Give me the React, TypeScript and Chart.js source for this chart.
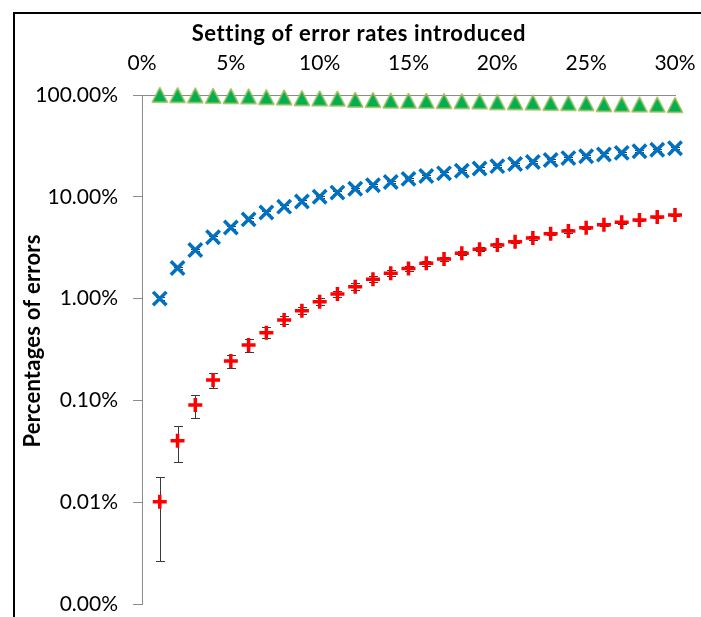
import React, { useEffect, useRef } from 'react';
import { Chart, registerables } from 'chart.js';

Chart.register(...registerables);

const errorRates = [1, 2, 3, 4, 5, 6, 7, 8, 9, 10, 11, 12, 13, 14, 15, 16, 17, 18, 19, 20, 21, 22, 23, 24, 25, 26, 27, 28, 29, 30];

const greenValues = [99.8, 99.2, 98.6, 97.5, 97.0, 96.6, 94.8, 94.2, 92.6, 92.2, 91.8, 89.4, 88.9, 87.8, 87.4, 87.2, 86.7, 86.4, 86.1, 84.7, 84.4, 84.1, 83.2, 82.9, 82.6, 81.0, 80.7, 80.4, 80.1, 79.2];

const blueValues = [1, 2, 3, 4, 5, 6, 7, 8, 9, 10, 11, 12, 13, 14, 15, 16, 17, 18, 19, 20, 21, 22, 23, 24, 25, 26, 27, 28, 29, 30];
const blueLow = [0.97, 1.94, 2.91, 3.87, 4.84, 5.82, 6.8, 7.77, 8.75, 9.72, 10.7, 11.68, 12.65, 13.62, 14.6, 15.58, 16.55, 17.52, 18.5, 19.48, 20.45, 21.42, 22.4, 23.38, 24.35, 25.32, 26.3, 27.28, 28.25, 29.22];
const blueHigh = [1.03, 2.06, 3.09, 4.13, 5.16, 6.18, 7.2, 8.23, 9.25, 10.28, 11.3, 12.32, 13.35, 14.38, 15.4, 16.42, 17.45, 18.48, 19.5, 20.52, 21.55, 22.58, 23.6, 24.62, 25.65, 26.68, 27.7, 28.72, 29.75, 30.78];

const redValues = [0.0101, 0.0402, 0.09, 0.159, 0.244, 0.35, 0.463, 0.616, 0.76, 0.933, 1.11, 1.31, 1.55, 1.77, 1.97, 2.22, 2.45, 2.79, 3.05, 3.36, 3.62, 3.94, 4.34, 4.61, 4.97, 5.32, 5.61, 5.92, 6.33, 6.62];
const redLow = [0.00266, 0.025, 0.067, 0.131, 0.21, 0.301, 0.407, 0.56, 0.7, 0.86, 1.03, 1.22, 1.45, 1.66, 1.86, 2.1, 2.33, 2.66, 2.92, 3.22, 3.48, 3.79, 4.18, 4.45, 4.8, 5.14, 5.43, 5.74, 6.14, 6.43];
const redHigh = [0.0178, 0.056, 0.113, 0.185, 0.279, 0.401, 0.522, 0.68, 0.83, 1.01, 1.2, 1.41, 1.66, 1.89, 2.1, 2.35, 2.58, 2.93, 3.19, 3.51, 3.77, 4.1, 4.51, 4.78, 5.15, 5.5, 5.8, 6.11, 6.53, 6.82];

const xTickValues = [0, 5, 10, 15, 20, 25, 30];
const yTickValues = [0.001, 0.01, 0.1, 1, 10, 100];

const xTitle = 'Setting of error rates introduced';
const yTitle = 'Percentages of errors';

const FONT = 'Lato';

function makeTriangle(): HTMLCanvasElement {
  const c = document.createElement('canvas');
  c.width = 18;
  c.height = 18;
  const ctx = c.getContext('2d')!;
  ctx.beginPath();
  ctx.moveTo(9, 1.5);
  ctx.lineTo(16.5, 16);
  ctx.lineTo(1.5, 16);
  ctx.closePath();
  ctx.fillStyle = '#00B050';
  ctx.fill();
  ctx.lineWidth = 1.6;
  ctx.lineJoin = 'round';
  ctx.strokeStyle = '#9BBB59';
  ctx.stroke();
  return c;
}

const errorBarPlugin = {
  id: 'errorBars',
  beforeDatasetsDraw(chart: any) {
    const { ctx, scales } = chart;
    const xs = scales.x;
    const ys = scales.y;
    ctx.save();
    ctx.strokeStyle = '#3a3a3a';
    ctx.lineWidth = 1;
    const draw = (lows: number[], highs: number[]) => {
      for (let i = 0; i < errorRates.length; i++) {
        const px = Math.round(xs.getPixelForValue(errorRates[i])) + 0.5;
        const p1 = Math.round(ys.getPixelForValue(lows[i])) + 0.5;
        const p2 = Math.round(ys.getPixelForValue(highs[i])) + 0.5;
        ctx.beginPath();
        ctx.moveTo(px, p1);
        ctx.lineTo(px, p2);
        ctx.moveTo(px - 4.5, p1);
        ctx.lineTo(px + 4.5, p1);
        ctx.moveTo(px - 4.5, p2);
        ctx.lineTo(px + 4.5, p2);
        ctx.stroke();
      }
    };
    draw(blueLow, blueHigh);
    draw(redLow, redHigh);
    ctx.restore();
  },
};

function fitText(ctx: CanvasRenderingContext2D, text: string, target: number) {
  (ctx as any).letterSpacing = '0px';
  const w = ctx.measureText(text).width;
  const sp = (target - w) / Math.max(1, text.length - 1);
  (ctx as any).letterSpacing = `${sp.toFixed(2)}px`;
  return w + sp * text.length;
}

const titlesPlugin = {
  id: 'titles',
  afterDraw(chart: any) {
    const { ctx } = chart;
    ctx.save();
    ctx.font = `bold 22px ${FONT}`;
    ctx.fillStyle = '#000';
    ctx.textAlign = 'left';
    ctx.textBaseline = 'alphabetic';
    const w1 = fitText(ctx, xTitle, 333);
    ctx.fillText(xTitle, 358.5 - w1 / 2, 41);
    ctx.translate(40, 341);
    ctx.rotate(-Math.PI / 2);
    const w2 = fitText(ctx, yTitle, 213);
    ctx.fillText(yTitle, -w2 / 2, 0);
    ctx.restore();
  },
};

function zeroPadding(s: any) {
  s.paddingTop = 0;
  s.paddingBottom = 0;
  s.paddingLeft = 0;
  s.paddingRight = 0;
}

export default function App() {
  const ref = useRef<HTMLCanvasElement>(null);

  useEffect(() => {
    if (!ref.current) return;
    const tri = makeTriangle();
    const chart = new Chart(ref.current, {
      type: 'scatter',
      data: {
        datasets: [
          {
            label: 'green',
            data: errorRates.map((x, i) => ({ x, y: greenValues[i] })),
            pointStyle: tri as any,
            pointRadius: 9,
            showLine: false,
            clip: false,
          },
          {
            label: 'blue',
            data: errorRates.map((x, i) => ({ x, y: blueValues[i] })),
            pointStyle: 'crossRot',
            pointRadius: 9.5,
            borderColor: '#0070C0',
            backgroundColor: '#0070C0',
            pointBorderWidth: 3.5,
            showLine: false,
            clip: false,
          },
          {
            label: 'red',
            data: errorRates.map((x, i) => ({ x, y: redValues[i] })),
            pointStyle: 'cross',
            pointRadius: 7,
            borderColor: '#FF0000',
            backgroundColor: '#FF0000',
            pointBorderWidth: 3.5,
            showLine: false,
            clip: false,
          },
        ],
      },
      options: {
        responsive: false,
        animation: false,
        devicePixelRatio: 1,
        layout: { padding: { left: 14, top: 14, right: 26, bottom: 13 } },
        plugins: { legend: { display: false }, tooltip: { enabled: false } },
        scales: {
          x: {
            type: 'linear',
            position: 'top',
            min: 0,
            max: 30,
            afterBuildTicks: (s: any) => {
              s.ticks = xTickValues.map((v) => ({ value: v }));
            },
            afterFit: (s: any) => {
              s.height = 81;
              zeroPadding(s);
            },
            ticks: {
              callback: (v: any) => `${v}%`,
              font: { family: FONT, size: 21 },
              color: '#000',
              padding: 19,
              maxRotation: 0,
              autoSkip: false,
            },
            grid: { display: false, drawTicks: false },
            border: { display: true, color: '#8c8c8c', width: 1 },
          },
          y: {
            type: 'logarithmic',
            position: 'left',
            min: 0.001,
            max: 100,
            afterBuildTicks: (s: any) => {
              s.ticks = yTickValues.map((v) => ({ value: v }));
            },
            afterFit: (s: any) => {
              s.width = 128;
              zeroPadding(s);
            },
            ticks: {
              callback: (v: any) => `${Number(v).toFixed(2)}%`,
              font: { family: FONT, size: 21 },
              color: '#000',
              padding: 15,
              autoSkip: false,
            },
            grid: { drawOnChartArea: false, drawTicks: true, tickLength: 9, color: '#8c8c8c' },
            border: { display: true, color: '#8c8c8c', width: 1 },
            title: { display: false, text: yTitle },
          },
        },
      },
      plugins: [errorBarPlugin, titlesPlugin],
    } as any);
    return () => chart.destroy();
  }, []);

  return (
    <div style={{ position: 'absolute', left: 0, top: 0, width: 701, height: 617, background: '#fff', overflow: 'hidden' }}>
      <div
        style={{
          position: 'absolute',
          left: 13,
          top: 12,
          right: -10,
          bottom: -10,
          borderLeft: '2px solid #000',
          borderTop: '2px solid #000',
        }}
      />
      <canvas ref={ref} width={701} height={617} style={{ position: 'absolute', left: 0, top: 0 }} />
    </div>
  );
}
